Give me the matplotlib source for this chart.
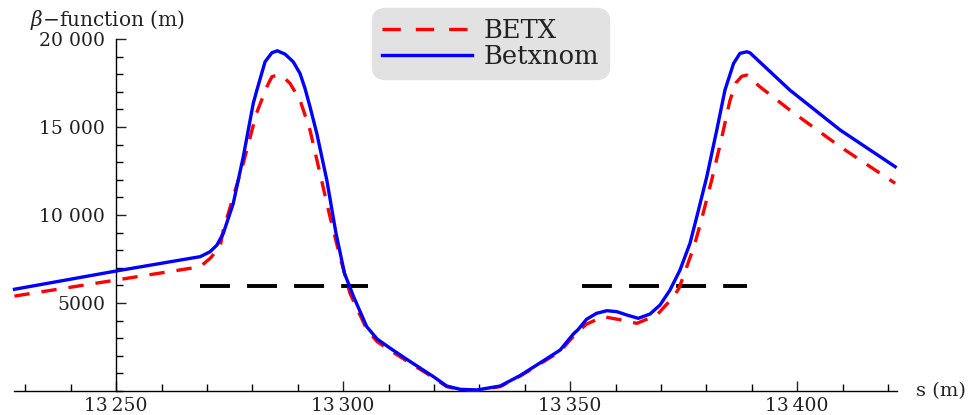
# | Imports |-----------------------------------------------------------------------------------------------------|
import matplotlib
matplotlib.use("Agg")
import matplotlib.pyplot as plt
from matplotlib.ticker import MultipleLocator, FixedLocator, FixedFormatter
from matplotlib.lines import Line2D

# | Data |--------------------------------------------------------------------------------------------------------|
s_nom = [13227.6, 13250.0, 13266.3, 13268.5, 13270.7, 13272.2, 13273.6, 13275.8, 13278.0, 13280.2,
         13281.0, 13282.8, 13284.3, 13285.5, 13287.2, 13289.0, 13290.5, 13291.6, 13292.7, 13294.2,
         13296.4, 13298.4, 13300.3, 13302.3, 13305.2, 13307.5, 13310.4, 13314.8, 13319.9, 13322.8,
         13325.8, 13329.4, 13334.6, 13339.0, 13343.4, 13347.8, 13350.7, 13351.8, 13353.6, 13355.8,
         13358.1, 13360.3, 13362.5, 13365.0, 13367.6, 13369.8, 13372.0, 13374.2, 13376.4, 13377.9,
         13380.1, 13382.3, 13384.1, 13386.0, 13387.4, 13388.9, 13389.6, 13398.4, 13409.5, 13421.6]
betxnom = [5780, 6818, 7536, 7630, 7914, 8293, 8956, 10661, 13309, 16341,
           17097, 18705, 19218, 19330, 19142, 18705, 18043, 17192, 16150, 14634,
           11984, 9000, 6685, 5360, 3654, 2950, 2424, 1666, 814, 284,
           95, 57, 284, 880, 1600, 2329, 3237, 3502, 4071, 4412,
           4563, 4506, 4317, 4129, 4374, 4885, 5737, 6873, 8390, 9900,
           12172, 14825, 17097, 18611, 19180, 19274, 19218, 17097, 14825, 12742]

s_betx = [13227.6, 13250.0, 13266.3, 13268.5, 13270.7, 13272.9, 13273.6, 13275.8, 13278.0, 13280.9,
          13283.2, 13284.3, 13285.5, 13286.8, 13288.3, 13290.5, 13292.7, 13294.9, 13297.1, 13299.3,
          13301.5, 13305.2, 13307.5, 13310.4, 13314.8, 13319.9, 13322.8, 13325.8, 13329.4, 13334.6,
          13339.0, 13343.4, 13347.8, 13350.7, 13353.6, 13357.3, 13361.0, 13364.7, 13369.1, 13372.8,
          13374.0, 13375.2, 13377.4, 13379.0, 13381.2, 13383.4, 13385.2, 13386.5, 13387.8, 13388.9,
          13391.8, 13398.4, 13409.5, 13421.6]
betx = [5393, 6305, 6969, 7060, 7536, 8199, 9145, 11037, 12930, 15773,
        17286, 17854, 17949, 17854, 17475, 16528, 14825, 12363, 9900, 7630,
        5550, 3500, 2800, 2300, 1580, 760, 250, 80, 40, 250,
        850, 1550, 2250, 3100, 3800, 4222, 4050, 3843, 4317, 5360,
        5850, 6700, 8300, 9800, 12000, 14400, 16500, 17500, 17880, 17949,
        17286, 15961, 13876, 11798]

# black reference segments (start s, end s) and level
ref_segments = [(13268.5, 13305.4), (13352.6, 13388.9)]
ref_level = 5980

x_major = [13250, 13300, 13350, 13400]
x_labels = ["13\u2009250", "13\u2009300", "13\u2009350", "13\u2009400"]
y_major = [5000, 10000, 15000, 20000]
y_labels = ["5000", "10 000", "15 000", "20 000"]

# | Figure |------------------------------------------------------------------------------------------------------|
W, H = 975, 415
plt.rcParams["font.family"] = ["DejaVu Serif"]
plt.rcParams["mathtext.fontset"] = "dejavuserif"

fig = plt.figure(figsize=(W / 100, H / 100), dpi=100)
ax = fig.add_axes([14 / W, (H - 391) / H, (897 - 14) / W, (391 - 39) / H])
ax.set_xlim(13227.5, 13422.0)
ax.set_ylim(0, 20000)

red_dash = (4.6, 3.6)
ax.plot(s_betx, betx, color="#ff0000", lw=2.4, dashes=red_dash, zorder=3, clip_on=False)
ax.plot(s_nom, betxnom, color="#0000ff", lw=2.4, zorder=4, clip_on=False)
for s0, s1 in ref_segments:
    ax.plot([s0, s1], [ref_level, ref_level], color="black", lw=2.8, dashes=(7.7, 4.4),
            dash_capstyle="butt", zorder=2)

# | Axes style |--------------------------------------------------------------------------------------------------|
for side in ("top", "right"):
    ax.spines[side].set_visible(False)
ax.spines["left"].set_position(("data", 13250))
ax.spines["bottom"].set_position(("data", 0))
ax.spines["left"].set_linewidth(1.0)
ax.spines["bottom"].set_linewidth(1.0)

ax.xaxis.set_major_locator(FixedLocator(x_major))
ax.xaxis.set_major_formatter(FixedFormatter(x_labels))
ax.xaxis.set_minor_locator(MultipleLocator(10))
ax.yaxis.set_major_locator(FixedLocator(y_major))
ax.yaxis.set_major_formatter(FixedFormatter(y_labels))
ax.yaxis.set_minor_locator(MultipleLocator(1000))

ax.tick_params(which="major", direction="in", length=7, width=1, labelsize=13.5, colors="#222222")
ax.tick_params(which="minor", direction="in", length=5, width=1)
ax.tick_params(axis="y", which="major", pad=8)
ax.tick_params(axis="x", which="major", pad=4)
ax.patch.set_visible(False)

fig.text(30 / W, 1 - 20 / H, r"$\beta$" + "\u2212function (m)", fontsize=14.5, va="center", ha="left",
         color="#222222")
fig.text(916 / W, 1 - 391 / H, "s (m)", fontsize=14, va="center", ha="left", color="#222222")

# | Legend |------------------------------------------------------------------------------------------------------|
handles = [Line2D([], [], color="#ff0000", lw=2.4, dashes=(5.5, 4.5), label="BETX"),
           Line2D([], [], color="#0000ff", lw=2.4, label="Betxnom")]
leg = ax.legend(handles=handles, loc="upper left", bbox_to_anchor=(372 / W, 1 - 8 / H),
                bbox_transform=fig.transFigure, fontsize=18.5, frameon=True, fancybox=True,
                facecolor="#e2e2e2", edgecolor="#e2e2e2", framealpha=1, borderaxespad=0,
                handlelength=3.5, handletextpad=0.45, borderpad=0.38, labelspacing=0.04)
leg.get_frame().set_boxstyle("round", pad=0, rounding_size=0.5)
for t in leg.get_texts():
    t.set_color("#222222")

fig.savefig("out.png", dpi=100)
